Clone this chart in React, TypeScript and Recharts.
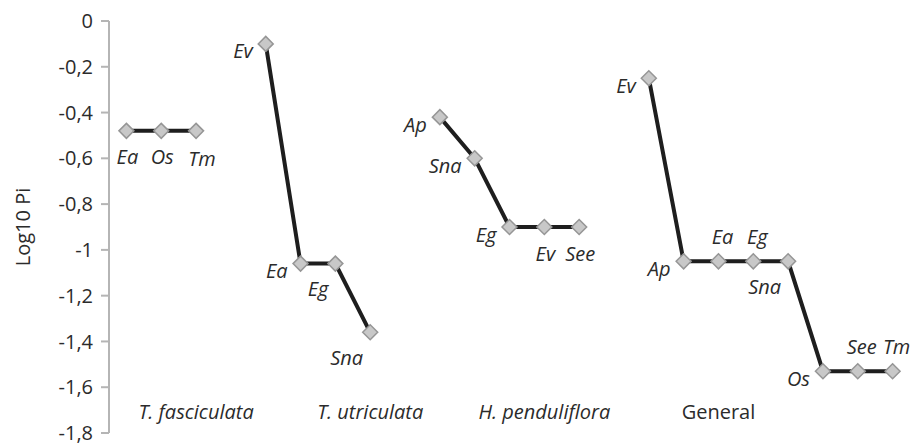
import { Line, LineChart, XAxis, YAxis } from "recharts";

// Log10 Pi per group
const fasciculataPoints = ["Ea", "Os", "Tm"];
const fasciculataValues = [-0.48, -0.48, -0.48];

const utriculataPoints = ["Ev", "Ea", "Eg", "Sna"];
const utriculataValues = [-0.1, -1.06, -1.06, -1.36];

const pendulifloraPoints = ["Ap", "Sna", "Eg", "Ev", "See"];
const pendulifloraValues = [-0.42, -0.6, -0.9, -0.9, -0.9];

const generalPoints = ["Ev", "Ap", "Ea", "Eg", "Sna", "Os", "See", "Tm"];
const generalValues = [-0.25, -1.05, -1.05, -1.05, -1.05, -1.53, -1.53, -1.53];

const groupNames = ["T. fasciculata", "T. utriculata", "H. penduliflora", "General"];
const groupStarts = [0, 4, 9, 15];
const groupTitleSlots = [2, 7, 12, 17];
const slotCount = 23;

const yTicks = [0, -0.2, -0.4, -0.6, -0.8, -1, -1.2, -1.4, -1.6, -1.8];

// where each point label sits relative to its marker
const fasciculataPlaces = ["below", "below", "belowRight"];
const utriculataPlaces = ["left", "left", "belowLeft", "belowLeft"];
const pendulifloraPlaces = ["left", "left", "left", "below", "below"];
const generalPlaces = ["left", "left", "above", "above", "belowLeft", "left", "above", "above"];

const FONT = "'Open Sans', sans-serif";
const INK = "#2b2b2b";
const FS = 20;

type Group = {
  key: string;
  start: number;
  points: string[];
  values: number[];
  places: string[];
};

const groups: Group[] = [
  { key: "fasc", start: groupStarts[0], points: fasciculataPoints, values: fasciculataValues, places: fasciculataPlaces },
  { key: "utr", start: groupStarts[1], points: utriculataPoints, values: utriculataValues, places: utriculataPlaces },
  { key: "pend", start: groupStarts[2], points: pendulifloraPoints, values: pendulifloraValues, places: pendulifloraPlaces },
  { key: "gen", start: groupStarts[3], points: generalPoints, values: generalValues, places: generalPlaces }
];

const data = Array.from({ length: slotCount }, (_, i) => {
  const row: Record<string, number | null> = { slot: i };
  groups.forEach((g) => {
    const j = i - g.start;
    row[g.key] = j >= 0 && j < g.values.length ? g.values[j] : null;
  });
  return row;
});

const placeStyle: Record<string, { dx: number; dy: number; anchor: string }> = {
  left: { dx: -13, dy: 7, anchor: "end" },
  below: { dx: 1, dy: 26, anchor: "middle" },
  belowRight: { dx: 6, dy: 28, anchor: "middle" },
  belowLeft: { dx: -7, dy: 25, anchor: "end" },
  above: { dx: 4, dy: -25, anchor: "middle" }
};

function Diamond(props: any) {
  const { cx, cy, value, index } = props;
  if (value == null || cy == null) return <g key={index} />;
  const r = 7.5;
  return (
    <polygon
      key={index}
      points={`${cx},${cy - r} ${cx + r},${cy} ${cx},${cy + r} ${cx - r},${cy}`}
      fill="#c8c8c8"
      stroke="#969696"
      strokeWidth={1.5}
    />
  );
}

function pointLabel(g: Group) {
  return (props: any) => {
    const { x, y, index } = props;
    const j = index - g.start;
    if (j < 0 || j >= g.points.length || y == null) return <g key={index} />;
    const s = placeStyle[g.places[j]];
    return (
      <text
        key={index}
        x={x + s.dx}
        y={y + s.dy}
        textAnchor={s.anchor}
        dominantBaseline="central"
        fontFamily={FONT}
        fontStyle="italic"
        fontSize={FS}
        fill={INK}
      >
        {g.points[j]}
      </text>
    );
  };
}

function GroupTick(props: any) {
  const { x, y, payload } = props;
  const k = groupTitleSlots.indexOf(payload.value);
  if (k < 0) return <g />;
  return (
    <text
      x={x}
      y={y - 30}
      textAnchor="middle"
      dominantBaseline="central"
      fontFamily={FONT}
      fontStyle={groupNames[k] === "General" ? "normal" : "italic"}
      fontSize={FS}
      fill={INK}
    >
      {groupNames[k]}
    </text>
  );
}

function YTitle(props: any) {
  const { viewBox } = props;
  const cx = viewBox.x + 22;
  const cy = viewBox.y + viewBox.height / 2;
  return (
    <text
      x={cx}
      y={cy}
      transform={`rotate(-90 ${cx} ${cy})`}
      textAnchor="middle"
      dominantBaseline="central"
      fontFamily={FONT}
      fontSize={20}
      fill={INK}
    >
      Log10 Pi
    </text>
  );
}

const fmt = (v: number) => String(Number(v.toFixed(1))).replace(".", ",");

export default function App() {
  return (
    <div style={{ position: "absolute", left: 0, top: 0, background: "#fff" }}>
      <LineChart width={917} height={445} data={data} margin={{ top: 21, right: 7, bottom: 11, left: 0 }}>
        <XAxis
          dataKey="slot"
          type="category"
          scale="band"
          interval={0}
          axisLine={false}
          tickLine={false}
          height={1}
          tick={<GroupTick />}
        />
        <YAxis
          type="number"
          domain={[-1.8, 0]}
          ticks={yTicks}
          width={109}
          tickSize={8}
          tickMargin={8}
          tickFormatter={fmt}
          axisLine={{ stroke: "#b5b5b5", strokeWidth: 2 }}
          tickLine={{ stroke: "#b5b5b5", strokeWidth: 2 }}
          tick={{ fill: INK, fontFamily: FONT, fontSize: FS }}
          label={<YTitle />}
        />
        {groups.map((g) => (
          <Line
            key={g.key}
            dataKey={g.key}
            type="linear"
            stroke="#1e1e1e"
            strokeWidth={4}
            connectNulls={false}
            isAnimationActive={false}
            dot={Diamond}
            activeDot={false}
            label={pointLabel(g)}
          />
        ))}
      </LineChart>
    </div>
  );
}
